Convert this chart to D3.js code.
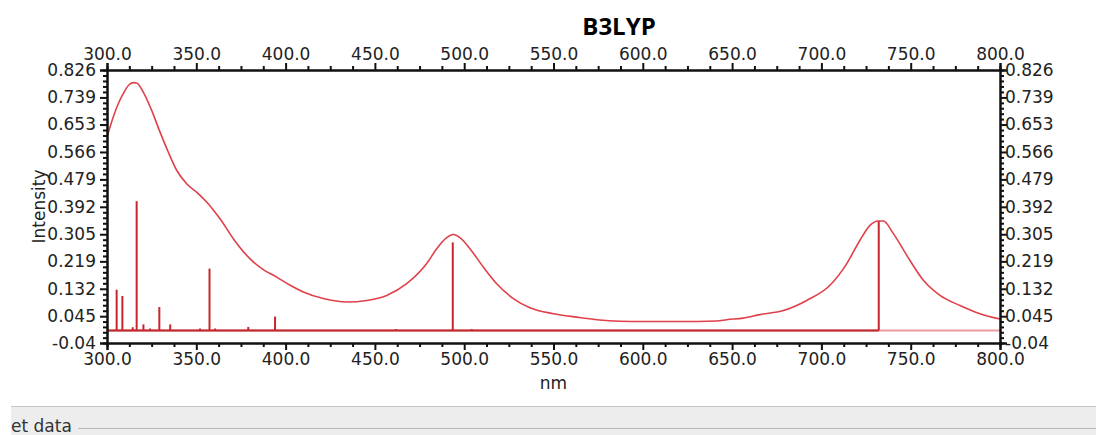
<!DOCTYPE html>
<html>
<head>
<meta charset="utf-8">
<script src="https://cdn.jsdelivr.net/npm/d3@7"></script>
<style>
  html, body { margin: 0; padding: 0; background: #fff; }
  svg { display: block; }
  text { font-family: "DejaVu Sans", sans-serif; fill: #222; }
</style>
</head>
<body>
<svg id="chart" width="1096" height="435"></svg>
<script>
// Broadened spectrum (nm, intensity)
const curveNm = [300, 303.5, 306.3, 309.1, 312.5, 314.7, 316.6, 320.3, 325.0, 329.7, 334.3, 339.0, 344.6, 351.1, 355.8, 360.5, 363.3, 370.7, 380.1, 387.5, 395.0, 402.5, 409.9, 421.1, 434.2, 445.4, 456.6, 467.8, 479.0, 484.6, 490.2, 493.9, 497.6, 503.2, 510.7, 518.2, 527.5, 536.8, 549.9, 563.0, 574.2, 587.2, 600, 620, 641.4, 647.0, 656.3, 665.6, 678.7, 691.8, 704.8, 714.2, 721.6, 727.2, 731.9, 734.7, 740.3, 747.8, 757.1, 766.4, 777.6, 788.8, 800];
const curveVal = [0.613, 0.677, 0.719, 0.751, 0.780, 0.786, 0.785, 0.756, 0.698, 0.629, 0.566, 0.508, 0.465, 0.434, 0.407, 0.375, 0.354, 0.291, 0.227, 0.193, 0.169, 0.143, 0.122, 0.101, 0.090, 0.095, 0.111, 0.148, 0.212, 0.259, 0.294, 0.304, 0.294, 0.259, 0.201, 0.148, 0.101, 0.072, 0.053, 0.042, 0.034, 0.029, 0.028, 0.028, 0.030, 0.034, 0.039, 0.050, 0.063, 0.095, 0.143, 0.212, 0.286, 0.333, 0.347, 0.347, 0.307, 0.238, 0.159, 0.111, 0.079, 0.053, 0.036];

// Individual transitions (stick spectrum)
const stickNm  = [305.4, 308.6, 314.4, 316.6, 320.4, 324.1, 329.3, 335.4, 352.1, 357.4, 360.5, 379.1, 394.1, 461.8, 493.6, 504.2, 732.1];
const stickVal = [0.129, 0.109, 0.010, 0.410, 0.019, 0.006, 0.074, 0.019, 0.006, 0.196, 0.006, 0.011, 0.044, 0.004, 0.279, 0.004, 0.347];

// Axis ticks
const xTicks = [300, 350, 400, 450, 500, 550, 600, 650, 700, 750, 800];
const yTicks = [-0.04, 0.045, 0.132, 0.219, 0.305, 0.392, 0.479, 0.566, 0.653, 0.739, 0.826];
const yTickLabels = ["-0.04", "0.045", "0.132", "0.219", "0.305", "0.392", "0.479", "0.566", "0.653", "0.739", "0.826"];

const svg = d3.select("#chart");
const plotLeft = 107, plotRight = 1000, plotTop = 70, plotBottom = 343;

const x = d3.scaleLinear().domain([300, 800]).range([plotLeft, plotRight]);
const y = d3.scaleLinear().domain([-0.04, 0.826]).range([plotBottom, plotTop]);

// Title
svg.append("text")
  .attr("x", 619).attr("y", 35)
  .attr("text-anchor", "middle")
  .style("font-family", "'Open Sans', sans-serif")
  .style("font-weight", "bold")
  .style("font-size", "24px")
  .style("fill", "#000")
  .text("B3LYP");

// Plot data
const plot = svg.append("g");

// Zero line across the full range
plot.append("line")
  .attr("x1", x(300)).attr("x2", x(800))
  .attr("y1", y(0)).attr("y2", y(0))
  .attr("stroke", "#e99c9e").attr("stroke-width", 2);

// Stick baseline up to the last transition
plot.append("line")
  .attr("x1", x(300)).attr("x2", x(d3.max(stickNm)))
  .attr("y1", y(0)).attr("y2", y(0))
  .attr("stroke", "#c0282e").attr("stroke-width", 2);

plot.selectAll("line.stick")
  .data(stickNm.map((d, i) => [d, stickVal[i]]))
  .join("line")
  .attr("class", "stick")
  .attr("x1", d => x(d[0])).attr("x2", d => x(d[0]))
  .attr("y1", y(0)).attr("y2", d => y(d[1]))
  .attr("stroke", "#c8262c").attr("stroke-width", 2);

const line = d3.line()
  .x(d => x(d[0])).y(d => y(d[1]))
  .curve(d3.curveMonotoneX);

plot.append("path")
  .datum(curveNm.map((d, i) => [d, curveVal[i]]))
  .attr("d", line)
  .attr("fill", "none")
  .attr("stroke", "#e0404a")
  .attr("stroke-width", 1.6);

// Axes
function minorValues(majors, n) {
  const out = [];
  for (let i = 0; i < majors.length - 1; i++) {
    const a = majors[i], b = majors[i + 1];
    for (let k = 1; k < n; k++) out.push(a + (b - a) * k / n);
  }
  return out;
}
const xMinor = minorValues(xTicks, 4);
const yMinor = minorValues(yTicks, 5);

function styleAxis(g) {
  g.selectAll(".domain").attr("stroke", "#111").attr("stroke-width", 2);
  g.selectAll(".tick line").attr("stroke", "#111").attr("stroke-width", 2);
  g.selectAll(".tick text").style("font-size", "17px").style("fill", "#222");
}

const fmtX = d3.format(".1f");

// bottom
svg.append("g").attr("transform", `translate(0,${plotBottom})`)
  .call(d3.axisBottom(x).tickValues(xMinor).tickSize(4).tickFormat(""))
  .call(styleAxis);
svg.append("g").attr("transform", `translate(0,${plotBottom})`)
  .call(d3.axisBottom(x).tickValues(xTicks).tickSize(7).tickPadding(3).tickFormat(fmtX))
  .call(styleAxis);
// top
svg.append("g").attr("transform", `translate(0,${plotTop})`)
  .call(d3.axisTop(x).tickValues(xMinor).tickSize(4).tickFormat(""))
  .call(styleAxis);
svg.append("g").attr("transform", `translate(0,${plotTop})`)
  .call(d3.axisTop(x).tickValues(xTicks).tickSize(7).tickPadding(3).tickFormat(fmtX))
  .call(styleAxis);
// left
svg.append("g").attr("transform", `translate(${plotLeft},0)`)
  .call(d3.axisLeft(y).tickValues(yMinor).tickSize(4).tickFormat(""))
  .call(styleAxis);
svg.append("g").attr("transform", `translate(${plotLeft},0)`)
  .call(d3.axisLeft(y).tickValues(yTicks).tickSize(7).tickPadding(4).tickFormat((d, i) => yTickLabels[i]))
  .call(styleAxis);
// right
svg.append("g").attr("transform", `translate(${plotRight},0)`)
  .call(d3.axisRight(y).tickValues(yMinor).tickSize(4).tickFormat(""))
  .call(styleAxis);
svg.append("g").attr("transform", `translate(${plotRight},0)`)
  .call(d3.axisRight(y).tickValues(yTicks).tickSize(7).tickPadding(-2).tickFormat((d, i) => yTickLabels[i]))
  .call(styleAxis);

// Axis titles
svg.append("text")
  .attr("x", x(550)).attr("y", 389)
  .attr("text-anchor", "middle")
  .style("font-size", "17px")
  .text("nm");

svg.append("text")
  .attr("transform", `translate(45,${(plotTop + plotBottom) / 2}) rotate(-90)`)
  .attr("text-anchor", "middle")
  .style("font-size", "17px")
  .text("Intensity");

// Status panel below the chart
const panel = svg.append("g");
panel.append("rect")
  .attr("x", 11).attr("y", 406).attr("width", 1085).attr("height", 29)
  .attr("fill", "#ededed");
panel.append("line")
  .attr("x1", 11).attr("x2", 1096).attr("y1", 406.5).attr("y2", 406.5)
  .attr("stroke", "#c6c6c6").attr("stroke-width", 1);
panel.append("line")
  .attr("x1", 78).attr("x2", 1096).attr("y1", 428.5).attr("y2", 428.5)
  .attr("stroke", "#b8b8b8").attr("stroke-width", 1);
panel.append("text")
  .attr("x", 11).attr("y", 432)
  .style("font-size", "17px")
  .style("fill", "#333")
  .text("et data");
</script>
</body>
</html>
